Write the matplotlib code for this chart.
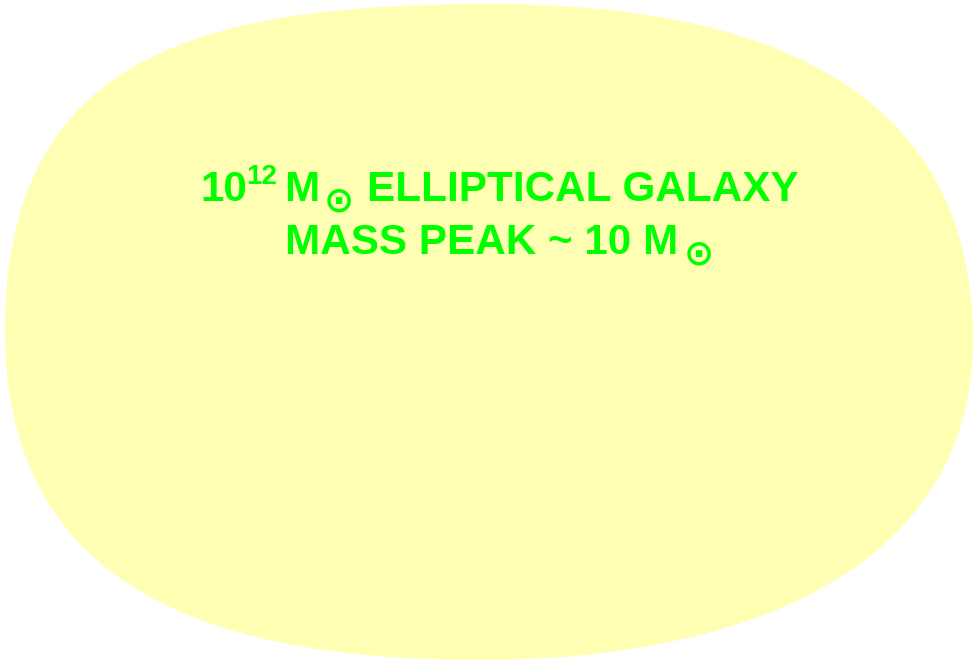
import matplotlib
matplotlib.use("Agg")
import matplotlib.pyplot as plt
from matplotlib.path import Path
from matplotlib.patches import PathPatch

# Outline of the galaxy blob: four anchor points (top, right, bottom, left)
# with two bezier handles per segment, in picture pixel units.
ANCHOR_X = [490, 973, 480, 5]
ANCHOR_Y = [4, 340, 660, 330]
HANDLE_OUT_X = [760, 973, 180, 5]
HANDLE_OUT_Y = [4, 560, 660, 55]
HANDLE_IN_X = [973, 760, 5, 200]
HANDLE_IN_Y = [85, 660, 570, 4]

LINE1_MAIN = "10"
LINE1_EXP = "12"
LINE1_UNIT = "M"
LINE1_REST = "ELLIPTICAL GALAXY"
LINE2_MAIN = "MASS PEAK ~ 10 M"
SUN = "\u2299"

FILL = "#FFFFB4"
GREEN = "#00FF00"
W, H = 973, 662

fig = plt.figure(figsize=(W / 100, H / 100), dpi=100)
ax = fig.add_axes([0, 0, 1, 1])
ax.set_xlim(0, W)
ax.set_ylim(H, 0)
ax.axis("off")

verts = [(ANCHOR_X[0], ANCHOR_Y[0])]
codes = [Path.MOVETO]
for i in range(4):
    j = (i + 1) % 4
    verts += [
        (HANDLE_OUT_X[i], HANDLE_OUT_Y[i]),
        (HANDLE_IN_X[i], HANDLE_IN_Y[i]),
        (ANCHOR_X[j], ANCHOR_Y[j]),
    ]
    codes += [Path.CURVE4] * 3
ax.add_patch(PathPatch(Path(verts, codes), facecolor=FILL, edgecolor="none"))

font = dict(family="Liberation Sans", weight="bold", color=GREEN)
sun_font = dict(family="DejaVu Sans", weight="bold", color=GREEN)


def put(x, y, s, size, **kw):
    ax.text(x, y, s, fontsize=size, ha="left", va="baseline", **kw)


# first line
put(200, 201, LINE1_MAIN, 30.4, **font)
put(246, 184, LINE1_EXP, 20, **font)
put(284, 201, LINE1_UNIT, 30.4, **font)
put(324, 211, SUN, 26, **sun_font)
put(367, 201, LINE1_REST, 30.4, **font)

# second line
put(285, 254, LINE2_MAIN, 30.4, **font)
put(684, 264, SUN, 26, **sun_font)

fig.savefig("out.png", dpi=100)
